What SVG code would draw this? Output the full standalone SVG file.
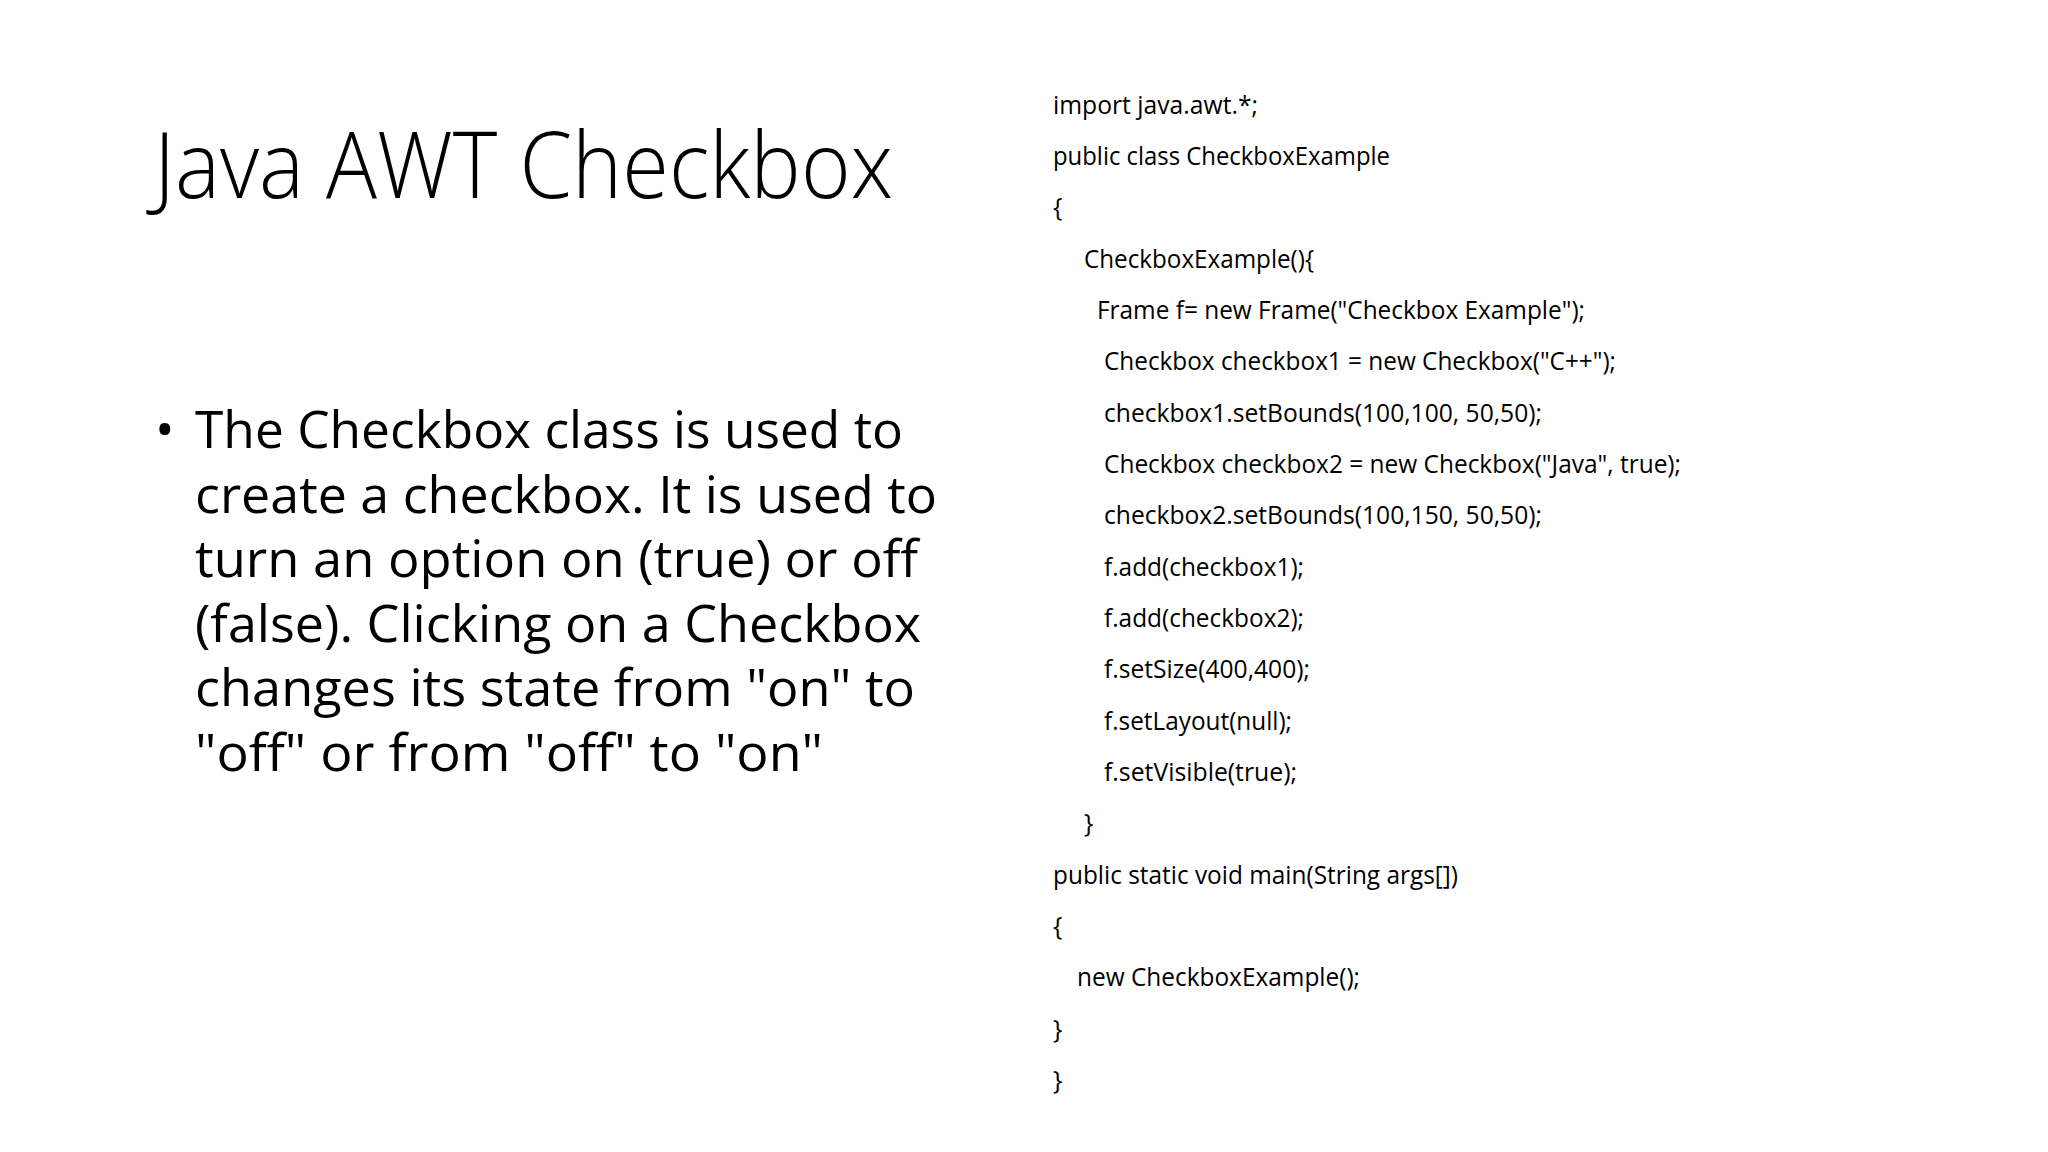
<svg xmlns="http://www.w3.org/2000/svg" width="2048" height="1152" viewBox="0 0 2048 1152">
<style>
.t{font-family:"Open Sans","Liberation Sans",sans-serif;font-weight:300;font-size:92px;fill:#000}
.b{font-family:"Open Sans","Liberation Sans",sans-serif;font-size:52px;fill:#000}
.c{font-family:"Open Sans","Liberation Sans",sans-serif;font-size:25px;fill:#000}
</style>
<rect width="2048" height="1152" fill="#fff"/>
<g id="title"><text class="t" x="154" y="198" textLength="739" lengthAdjust="spacingAndGlyphs">Java AWT Checkbox</text></g>
<g id="bullet">
<text class="b" x="155" y="448">•</text>
<text class="b" x="195" y="448" textLength="708" lengthAdjust="spacingAndGlyphs">The Checkbox class is used to</text>
<text class="b" x="195" y="513" textLength="742" lengthAdjust="spacingAndGlyphs">create a checkbox. It is used to</text>
<text class="b" x="195" y="577" textLength="723" lengthAdjust="spacingAndGlyphs">turn an option on (true) or off</text>
<text class="b" x="195" y="642" textLength="726" lengthAdjust="spacingAndGlyphs">(false). Clicking on a Checkbox</text>
<text class="b" x="195" y="706" textLength="720" lengthAdjust="spacingAndGlyphs">changes its state from "on" to</text>
<text class="b" x="195" y="771" textLength="628" lengthAdjust="spacingAndGlyphs">"off" or from "off" to "on"</text>
</g>
<g id="code">
<text class="c" x="1053" y="114" textLength="205" lengthAdjust="spacingAndGlyphs">import java.awt.*;</text>
<text class="c" x="1053" y="165" textLength="337" lengthAdjust="spacingAndGlyphs">public class CheckboxExample</text>
<text class="c" x="1053" y="216">{</text>
<text class="c" x="1084" y="268" textLength="230" lengthAdjust="spacingAndGlyphs">CheckboxExample(){</text>
<text class="c" x="1097" y="319" textLength="488" lengthAdjust="spacingAndGlyphs">Frame f= new Frame("Checkbox Example");</text>
<text class="c" x="1104" y="370" textLength="512" lengthAdjust="spacingAndGlyphs">Checkbox checkbox1 = new Checkbox("C++");</text>
<text class="c" x="1104" y="422" textLength="438" lengthAdjust="spacingAndGlyphs">checkbox1.setBounds(100,100, 50,50);</text>
<text class="c" x="1104" y="473" textLength="577" lengthAdjust="spacingAndGlyphs">Checkbox checkbox2 = new Checkbox("Java", true);</text>
<text class="c" x="1104" y="524" textLength="438" lengthAdjust="spacingAndGlyphs">checkbox2.setBounds(100,150, 50,50);</text>
<text class="c" x="1104" y="576" textLength="200" lengthAdjust="spacingAndGlyphs">f.add(checkbox1);</text>
<text class="c" x="1104" y="627" textLength="200" lengthAdjust="spacingAndGlyphs">f.add(checkbox2);</text>
<text class="c" x="1104" y="678" textLength="206" lengthAdjust="spacingAndGlyphs">f.setSize(400,400);</text>
<text class="c" x="1104" y="730" textLength="188" lengthAdjust="spacingAndGlyphs">f.setLayout(null);</text>
<text class="c" x="1104" y="781" textLength="193" lengthAdjust="spacingAndGlyphs">f.setVisible(true);</text>
<text class="c" x="1084" y="832">}</text>
<text class="c" x="1053" y="884" textLength="405" lengthAdjust="spacingAndGlyphs">public static void main(String args[])</text>
<text class="c" x="1053" y="935">{</text>
<text class="c" x="1077" y="986" textLength="283" lengthAdjust="spacingAndGlyphs">new CheckboxExample();</text>
<text class="c" x="1053" y="1038">}</text>
<text class="c" x="1053" y="1089">}</text>
</g>
</svg>
